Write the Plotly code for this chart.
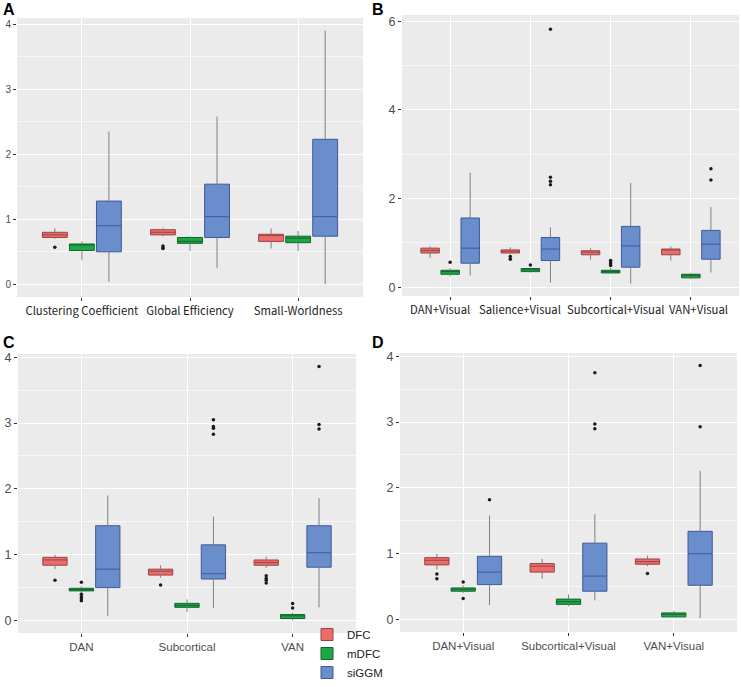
import plotly.graph_objects as go

W, H = 741, 687

groups = ["DFC", "mDFC", "siGGM"]

# Each stats row: [lower whisker, q1, median, q3, upper whisker]
A_cats = ["Clustering Coefficient", "Global Efficiency", "Small-Worldness"]
A_DFC = [[0.70, 0.72, 0.76, 0.80, 0.86], [0.74, 0.76, 0.80, 0.84, 0.87], [0.55, 0.66, 0.75, 0.77, 0.86]]
A_mDFC = [[0.37, 0.52, 0.61, 0.62, 0.66], [0.51, 0.63, 0.66, 0.72, 0.74], [0.51, 0.64, 0.71, 0.74, 0.82]]
A_siGGM = [[0.04, 0.50, 0.90, 1.28, 2.35], [0.25, 0.72, 1.04, 1.54, 2.58], [0.00, 0.74, 1.04, 2.23, 3.90]]
A_DFC_out = [[0.57], [0.59, 0.56, 0.55], []]
A_mDFC_out = [[], [], []]
A_siGGM_out = [[], [], []]

B_cats = ["DAN+Visual", "Salience+Visual", "Subcortical+Visual", "VAN+Visual"]
B_DFC = [[0.66, 0.77, 0.83, 0.88, 0.92], [0.75, 0.77, 0.81, 0.84, 0.90], [0.62, 0.73, 0.79, 0.82, 0.88], [0.60, 0.73, 0.84, 0.86, 0.92]]
B_mDFC = [[0.24, 0.29, 0.35, 0.38, 0.43], [0.33, 0.35, 0.39, 0.42, 0.44], [0.30, 0.32, 0.35, 0.38, 0.43], [0.18, 0.21, 0.26, 0.29, 0.32]]
B_siGGM = [[0.26, 0.54, 0.88, 1.56, 2.58], [0.10, 0.60, 0.86, 1.12, 1.35], [0.08, 0.45, 0.93, 1.37, 2.35], [0.33, 0.63, 0.97, 1.28, 1.81]]
B_DFC_out = [[], [0.69, 0.63], [], []]
B_mDFC_out = [[0.56], [0.50], [0.60, 0.57, 0.53, 0.49], []]
B_siGGM_out = [[], [5.82, 2.48, 2.39, 2.31], [], [2.67, 2.42]]

C_cats = ["DAN", "Subcortical", "VAN"]
C_DFC = [[0.78, 0.84, 0.92, 0.96, 1.00], [0.65, 0.69, 0.75, 0.78, 0.84], [0.80, 0.84, 0.88, 0.92, 0.97]]
C_mDFC = [[0.42, 0.45, 0.47, 0.49, 0.52], [0.13, 0.20, 0.23, 0.26, 0.32], [0.00, 0.03, 0.07, 0.09, 0.12]]
C_siGGM = [[0.07, 0.50, 0.78, 1.44, 1.90], [0.19, 0.63, 0.71, 1.15, 1.58], [0.20, 0.81, 1.03, 1.44, 1.86]]
C_DFC_out = [[0.61], [0.54], [0.68, 0.64, 0.61, 0.57]]
C_mDFC_out = [[0.58, 0.40, 0.36, 0.33, 0.30], [], [0.26, 0.19]]
C_siGGM_out = [[], [3.05, 2.95, 2.92, 2.83], [3.86, 2.98, 2.91]]

D_cats = ["DAN+Visual", "Subcortical+Visual", "VAN+Visual"]
D_DFC = [[0.76, 0.83, 0.90, 0.94, 1.00], [0.62, 0.72, 0.81, 0.85, 0.92], [0.81, 0.84, 0.88, 0.92, 0.97]]
D_mDFC = [[0.40, 0.43, 0.46, 0.48, 0.52], [0.20, 0.23, 0.27, 0.31, 0.38], [0.03, 0.04, 0.08, 0.10, 0.13]]
D_siGGM = [[0.22, 0.53, 0.72, 0.96, 1.58], [0.29, 0.43, 0.66, 1.16, 1.60], [0.02, 0.52, 1.00, 1.34, 2.26]]
D_DFC_out = [[0.69, 0.62], [], [0.70]]
D_mDFC_out = [[0.57, 0.32], [], []]
D_siGGM_out = [[1.82], [3.75, 2.97, 2.90], [3.86, 2.93]]

fills = {"DFC": "#EE6B6B", "mDFC": "#1EA845", "siGGM": "#6A8DCB"}
lines = {"DFC": "#9A4444", "mDFC": "#11652C", "siGGM": "#3F5A98"}
offsets = {"DFC": -0.25, "mDFC": 0.0, "siGGM": 0.25}
box_w = 0.23

# label shifts (px) for panel B category labels, as placed in the reference
B_label_shift = [-10, -10, 5, 8]

panels = [
    dict(key="A", cats=A_cats, stats=[A_DFC, A_mDFC, A_siGGM], outs=[A_DFC_out, A_mDFC_out, A_siGGM_out],
         px=(17, 363, 18, 297), yr=[-0.195, 4.095], dt=1, font="Noto Sans CJK SC", tfs=11.3, tcol="#222", yfs=10, ann=False),
    dict(key="B", cats=B_cats, stats=[B_DFC, B_mDFC, B_siGGM], outs=[B_DFC_out, B_mDFC_out, B_siGGM_out],
         px=(402, 739, 15, 296), yr=[-0.2, 6.14], dt=2, font="Noto Sans CJK SC", tfs=11.3, tcol="#222", yfs=12.5, ann=True),
    dict(key="C", cats=C_cats, stats=[C_DFC, C_mDFC, C_siGGM], outs=[C_DFC_out, C_mDFC_out, C_siGGM_out],
         px=(18, 356, 354, 633), yr=[-0.19, 4.05], dt=1, font="Liberation Sans", tfs=11.5, tcol="#4D4D4D", yfs=12.5, ann=False),
    dict(key="D", cats=D_cats, stats=[D_DFC, D_mDFC, D_siGGM], outs=[D_DFC_out, D_mDFC_out, D_siGGM_out],
         px=(400, 737, 353, 632), yr=[-0.19, 4.05], dt=1, font="Liberation Sans", tfs=11.5, tcol="#4D4D4D", yfs=12.5, ann=False),
]

fig = go.Figure()
layout = {}
annotations = []

for i, p in enumerate(panels):
    sfx = "" if i == 0 else str(i + 1)
    xa, ya = "x" + sfx, "y" + sfx
    n = len(p["cats"])
    pos = list(range(1, n + 1))
    for g, stats, outs in zip(groups, p["stats"], p["outs"]):
        xs = [c + offsets[g] for c in pos]
        # whiskers
        wx, wy = [], []
        for x, s in zip(xs, stats):
            wx += [x, x, None, x, x, None]
            wy += [s[0], s[1], None, s[3], s[4], None]
        fig.add_trace(go.Scatter(x=wx, y=wy, mode="lines", line=dict(color="#808080", width=1),
                                 xaxis=xa, yaxis=ya, showlegend=False, hoverinfo="skip"))
        fig.add_trace(go.Box(
            x=xs, q1=[s[1] for s in stats], median=[s[2] for s in stats], q3=[s[3] for s in stats],
            lowerfence=[s[1] for s in stats], upperfence=[s[3] for s in stats],
            width=box_w, whiskerwidth=0, boxpoints=False,
            fillcolor=fills[g], line=dict(color=lines[g], width=1),
            name=g, legendgroup=g, showlegend=(i == 0),
            xaxis=xa, yaxis=ya))
        ox, oy = [], []
        for x, o in zip(xs, outs):
            for v in o:
                ox.append(x)
                oy.append(v)
        if ox:
            fig.add_trace(go.Scatter(x=ox, y=oy, mode="markers", marker=dict(color="#1A1A1A", size=3.5),
                                     xaxis=xa, yaxis=ya, showlegend=False, hoverinfo="skip"))
    x0, x1, y0, y1 = p["px"]
    layout["xaxis" + sfx] = dict(
        domain=[x0 / W, x1 / W], anchor=ya, range=[0.4, n + 0.6],
        tickvals=pos, ticktext=p["cats"], ticks="outside", ticklen=3, tickcolor="#333",
        showticklabels=not p["ann"], tickangle=0, automargin=False,
        showgrid=True, gridcolor="white", gridwidth=1.1, zeroline=False, showline=False,
        tickfont=dict(family=p["font"], size=p["tfs"], color=p["tcol"]))
    layout["yaxis" + sfx] = dict(
        domain=[1 - y1 / H, 1 - y0 / H], anchor=xa, range=p["yr"], automargin=False,
        tick0=0, dtick=p["dt"], ticks="outside", ticklen=3, tickcolor="#333",
        showgrid=True, gridcolor="white", gridwidth=1.1, zeroline=False, showline=False,
        minor=dict(dtick=p["dt"] / 2, showgrid=True, gridcolor="#F7F7F7", gridwidth=0.6),
        tickfont=dict(family="Liberation Sans", size=p["yfs"], color="#4D4D4D"))
    if p["ann"]:
        for c, lab, sh in zip(pos, p["cats"], B_label_shift):
            annotations.append(dict(text=lab, x=c, y=1 - (y1 + 4) / H, xref=xa, yref="paper",
                                    yanchor="top", xanchor="center", xshift=sh,
                                    showarrow=False, borderpad=0,
                                    font=dict(family=p["font"], size=p["tfs"], color=p["tcol"])))

letters = [("A", 2, 0), ("B", 371, 0), ("C", 2, 333), ("D", 371, 333)]
annotations += [dict(text="<b>%s</b>" % t, x=x / W, y=1 - y / H, xref="paper", yref="paper",
                     xanchor="left", yanchor="top", showarrow=False, borderpad=0,
                     font=dict(family="Liberation Sans", size=16, color="black"))
                for t, x, y in letters]

fig.update_layout(
    width=W, height=H, margin=dict(l=0, r=0, t=0, b=0, pad=0, autoexpand=False),
    paper_bgcolor="white", plot_bgcolor="#EBEBEB",
    annotations=annotations,
    legend=dict(x=307 / W, y=0.0, xanchor="left", yanchor="bottom",
                font=dict(family="Liberation Sans", size=11.5, color="#222"),
                bgcolor="rgba(0,0,0,0)", tracegroupgap=0, itemwidth=30),
    **layout)

fig.write_html("out.html", config={"displayModeBar": False},
               post_script="document.body.style.margin='0';")
